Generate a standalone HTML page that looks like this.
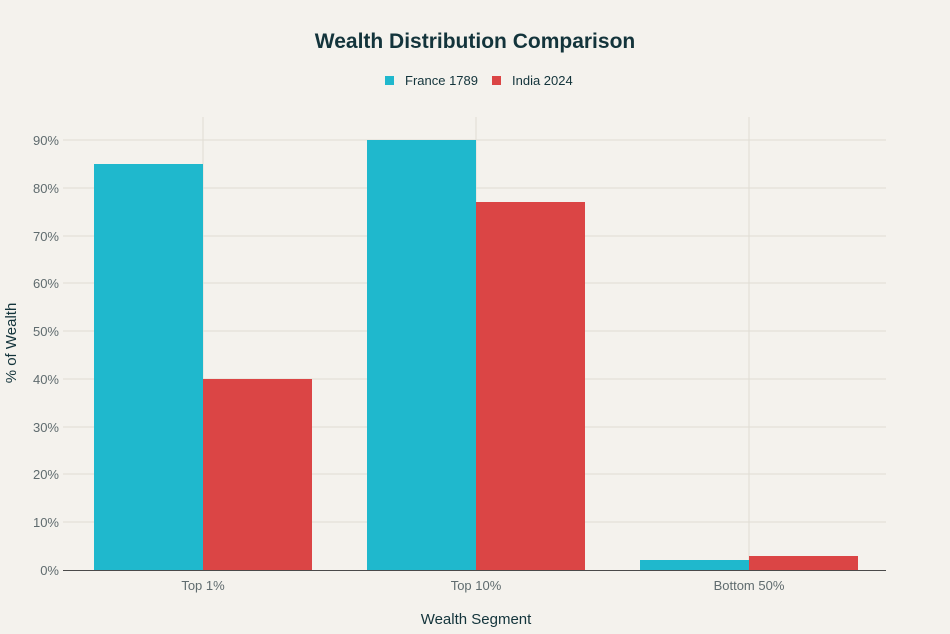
<!DOCTYPE html>
<html><head><meta charset="utf-8"><style>
html,body{margin:0;padding:0;background:#f4f2ed;}
svg{display:block;font-family:"Liberation Sans",sans-serif;}
</style></head><body>
<svg width="950" height="634" viewBox="0 0 950 634">
<rect width="950" height="634" fill="#f4f2ed"/>
<text x="475" y="48" text-anchor="middle" font-size="21" font-weight="bold" fill="#13343b">Wealth Distribution Comparison</text>
<rect x="385" y="76" width="9" height="9" fill="#1fb8cd"/>
<text x="405" y="85" font-size="13" fill="#13343b">France 1789</text>
<rect x="492" y="76" width="9" height="9" fill="#db4545"/>
<text x="512" y="85" font-size="13" fill="#13343b">India 2024</text>
<g stroke="#e0dcd3" stroke-width="1">
<line x1="63" x2="886" y1="140" y2="140"/>
<line x1="63" x2="886" y1="188" y2="188"/>
<line x1="63" x2="886" y1="236" y2="236"/>
<line x1="63" x2="886" y1="283" y2="283"/>
<line x1="63" x2="886" y1="331" y2="331"/>
<line x1="63" x2="886" y1="379" y2="379"/>
<line x1="63" x2="886" y1="427" y2="427"/>
<line x1="63" x2="886" y1="474" y2="474"/>
<line x1="63" x2="886" y1="522" y2="522"/>
<line x1="203" x2="203" y1="117" y2="570"/>
<line x1="476" x2="476" y1="117" y2="570"/>
<line x1="749" x2="749" y1="117" y2="570"/>
</g>
<g font-size="13" fill="#5f6b6e" text-anchor="end">
<text x="59" y="145">90%</text><text x="59" y="193">80%</text><text x="59" y="241">70%</text>
<text x="59" y="288">60%</text><text x="59" y="336">50%</text><text x="59" y="384">40%</text>
<text x="59" y="432">30%</text><text x="59" y="479">20%</text><text x="59" y="527">10%</text>
<text x="59" y="575">0%</text>
</g>
<rect x="94" y="164" width="109" height="406" fill="#1fb8cd"/>
<rect x="203" y="379" width="109" height="191" fill="#db4545"/>
<rect x="367" y="140" width="109" height="430" fill="#1fb8cd"/>
<rect x="476" y="202" width="109" height="368" fill="#db4545"/>
<rect x="640" y="560" width="109" height="10" fill="#1fb8cd"/>
<rect x="749" y="556" width="109" height="14" fill="#db4545"/>
<line x1="63" x2="886" y1="570.5" y2="570.5" stroke="#4a4a4a" stroke-width="1"/>
<g font-size="13" fill="#5f6b6e" text-anchor="middle">
<text x="203" y="590">Top 1%</text><text x="476" y="590">Top 10%</text><text x="749" y="590">Bottom 50%</text>
</g>
<text x="476" y="624" text-anchor="middle" font-size="15" fill="#13343b">Wealth Segment</text>
<text transform="translate(16,343) rotate(-90)" text-anchor="middle" font-size="15" fill="#13343b">% of Wealth</text>
</svg>
</body></html>
